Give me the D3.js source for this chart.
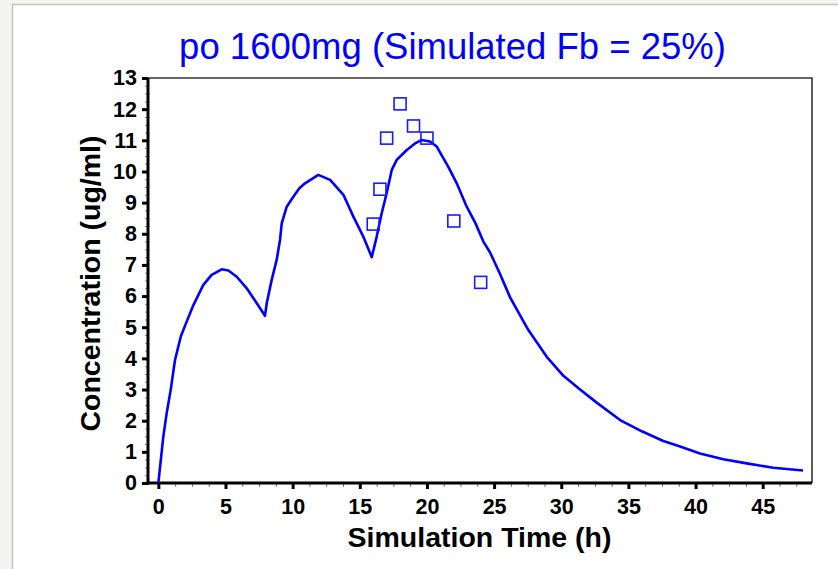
<!DOCTYPE html>
<html>
<head>
<meta charset="utf-8">
<script src="https://cdn.jsdelivr.net/npm/d3@7"></script>
<style>
  body { margin: 0; background: #f4f4f2; }
  svg { display: block; font-family: Arial, "Liberation Sans", sans-serif; }
</style>
</head>
<body>
<div id="chart"></div>
<script>
// simulated curve (h, ug/ml)
const simTime = [0, 0.37, 0.62, 0.92, 1.24, 1.67, 2.11, 2.61, 3.35, 3.97, 4.72, 5.21, 5.84, 6.58, 7.33, 7.94,
  8.07, 8.44, 8.81, 9.06, 9.19, 9.56, 10.05, 10.5, 10.92, 11.91, 12.79, 13.78, 14.52, 15.26, 15.89,
  16.26, 16.63, 17.0, 17.38, 17.75, 18.5, 19.11, 19.61, 20.23, 20.73, 21.59, 22.22, 22.96, 23.6, 24.2,
  24.7, 25.4, 26.2, 27.55, 28.92, 30.16, 31.4, 32.64, 34.38, 36.0, 37.6, 38.85, 40.33, 42.07, 43.81, 45.79, 48.0];
const simConc = [0, 1.49, 2.24, 2.99, 3.95, 4.70, 5.18, 5.71, 6.36, 6.68, 6.86, 6.82, 6.62, 6.25, 5.77, 5.37,
  5.77, 6.52, 7.16, 7.8, 8.34, 8.87, 9.19, 9.46, 9.62, 9.89, 9.73, 9.25, 8.55, 7.91, 7.25,
  7.91, 8.66, 9.30, 10.05, 10.37, 10.69, 10.9, 11.01, 10.96, 10.80, 10.15, 9.62, 8.87, 8.35, 7.75,
  7.4, 6.75, 5.95, 4.91, 4.05, 3.44, 3.0, 2.58, 2.02, 1.66, 1.35, 1.17, 0.95, 0.76, 0.63, 0.49, 0.40];

// observed points
const obsTime = [16, 16.5, 17, 18, 19, 20, 22, 24];
const obsConc = [8.31, 9.43, 11.07, 12.17, 11.46, 11.07, 8.41, 6.44];

const xTicks = [0, 5, 10, 15, 20, 25, 30, 35, 40, 45];
const yTicks = [0, 1, 2, 3, 4, 5, 6, 7, 8, 9, 10, 11, 12, 13];

const W = 838, H = 569;
const LEFT = 148, RIGHT = 812, TOP = 78, BOTTOM = 483;

const svg = d3.select('#chart').append('svg')
  .attr('width', W)
  .attr('height', H);

// panel
svg.append('rect')
  .attr('x', 12.5).attr('y', 4.5)
  .attr('width', W).attr('height', H)
  .attr('fill', 'white')
  .attr('stroke', '#c4c4bc')
  .attr('stroke-width', 1.5);

const x = d3.scaleLinear().domain([-0.77, 48.67]).range([LEFT, RIGHT]);
const y = d3.scaleLinear().domain([0, 13]).range([BOTTOM, TOP]);

// plot frame (top + right thin)
svg.append('path')
  .attr('d', `M${LEFT},${TOP}H${RIGHT}V${BOTTOM}`)
  .attr('fill', 'none')
  .attr('stroke', '#333')
  .attr('stroke-width', 1.6);

// minor ticks
const yMinor = d3.range(0, 13.001, 0.25).filter(v => v % 1 !== 0);
svg.append('g')
  .attr('transform', `translate(${LEFT},0)`)
  .call(d3.axisLeft(y).tickValues(yMinor).tickSize(3).tickFormat(''))
  .call(g => g.select('.domain').remove())
  .selectAll('line').attr('stroke', '#888').attr('stroke-width', 1);

const xMinor = d3.range(0, 48.7, 1.25).filter(v => v % 5 !== 0);
svg.append('g')
  .attr('transform', `translate(0,${BOTTOM})`)
  .call(d3.axisBottom(x).tickValues(xMinor).tickSize(4).tickFormat(''))
  .call(g => g.select('.domain').remove())
  .selectAll('line').attr('stroke', '#777').attr('stroke-width', 1);

// major axes
const yAxis = svg.append('g')
  .attr('transform', `translate(${LEFT},0)`)
  .call(d3.axisLeft(y).tickValues(yTicks).tickSize(6).tickSizeOuter(0).tickPadding(5));
const xAxis = svg.append('g')
  .attr('transform', `translate(0,${BOTTOM})`)
  .call(d3.axisBottom(x).tickValues(xTicks).tickSize(6).tickSizeOuter(0).tickPadding(10));

[yAxis, xAxis].forEach(g => {
  g.select('.domain').attr('stroke', '#000').attr('stroke-width', 3);
  g.selectAll('.tick line').attr('stroke', '#000').attr('stroke-width', 3);
  g.selectAll('.tick text')
    .attr('fill', '#000')
    .style('font-size', '21.5px')
    .style('font-weight', 'bold')
    .style('font-family', 'Arial, "Liberation Sans", sans-serif');
});
// axis lines run the whole panel
yAxis.select('.domain').attr('d', `M0,${TOP}V${BOTTOM + 1.5}`);
xAxis.select('.domain').attr('d', `M${LEFT - 1.5},0H${RIGHT}`);

// simulated line
const simData = simTime.map((t, i) => ({ t: t, c: simConc[i] }));
svg.append('path')
  .datum(simData)
  .attr('fill', 'none')
  .attr('stroke', '#0000ff')
  .attr('stroke-width', 2.6)
  .attr('stroke-linejoin', 'round')
  .attr('d', d3.line().x(d => x(d.t)).y(d => y(d.c)));

// observed squares
const obsData = obsTime.map((t, i) => ({ t: t, c: obsConc[i] }));
svg.selectAll('rect.obs')
  .data(obsData)
  .enter()
  .append('rect')
  .attr('class', 'obs')
  .attr('x', d => x(d.t) - 6)
  .attr('y', d => y(d.c) - 6)
  .attr('width', 12)
  .attr('height', 12)
  .attr('fill', 'none')
  .attr('stroke', '#1a1aff')
  .attr('stroke-width', 1.6);

// titles
svg.append('text')
  .attr('x', 452.5)
  .attr('y', 59)
  .attr('text-anchor', 'middle')
  .attr('fill', '#0000ff')
  .style('font-size', '36.5px')
  .text('po 1600mg (Simulated Fb = 25%)');

svg.append('text')
  .attr('x', 479.5)
  .attr('y', 547)
  .attr('text-anchor', 'middle')
  .style('font-size', '28.5px')
  .style('font-weight', 'bold')
  .text('Simulation Time (h)');

svg.append('text')
  .attr('transform', 'translate(100,283.5) rotate(-90)')
  .attr('text-anchor', 'middle')
  .style('font-size', '28.5px')
  .style('font-weight', 'bold')
  .text('Concentration (ug/ml)');
</script>
</body>
</html>
